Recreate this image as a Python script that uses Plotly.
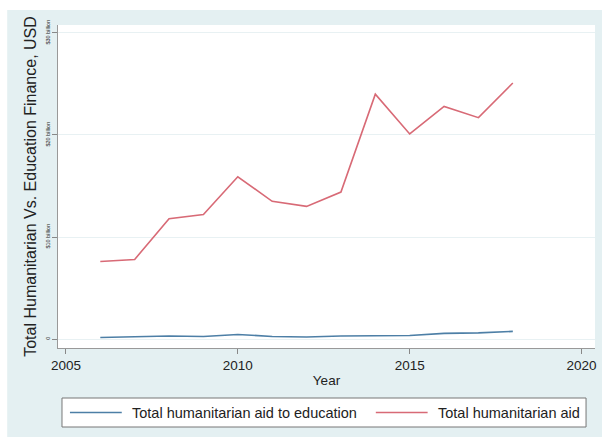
import plotly.graph_objects as go

years = [2006, 2007, 2008, 2009, 2010, 2011, 2012, 2013, 2014, 2015, 2016, 2017, 2018]
aid_education = [0.15, 0.2, 0.3, 0.25, 0.45, 0.25, 0.2, 0.3, 0.35, 0.35, 0.55, 0.6, 0.75]
aid_total = [7.6, 7.8, 11.8, 12.2, 15.9, 13.5, 13.0, 14.4, 24.0, 20.1, 22.8, 21.7, 25.1]

series_names = ["Total humanitarian aid to education", "Total humanitarian aid"]
series_colors = ["#4d7fa6", "#d86a76"]

y_tickvals = [0, 10, 20, 30]
y_ticktext = ["0", "$10 billion", "$20 billion", "$30 billion"]
x_tickvals = [2005, 2010, 2015, 2020]

bg = "#e4f0f2"

fig = go.Figure()
for yv, nm, col in zip([aid_education, aid_total], series_names, series_colors):
    fig.add_trace(go.Scatter(x=years, y=yv, mode="lines", name=nm,
                             line=dict(color=col, width=1.6)))

# legend box drawn in paper coordinates (plot area: 539 x 323 px)
W, H = 539.0, 323.0
leg_y0, leg_y1 = -79 / H, -50 / H
leg_mid = (leg_y0 + leg_y1) / 2
line_x = [(12 / W, 64 / W), (319 / W, 371 / W)]
text_x = [72 / W, 379 / W]

shapes = [
    dict(type="rect", xref="paper", yref="paper", x0=-0.2, x1=1.1,
         y0=1.0 + 15 / H, y1=1.2, fillcolor="white", line_width=0, layer="below"),
    dict(type="rect", xref="paper", yref="paper", x0=-0.2, x1=-51 / W,
         y0=-0.4, y1=1.2, fillcolor="white", line_width=0, layer="below"),
    dict(type="rect", xref="paper", yref="paper", x0=4 / W, x1=530 / W,
         y0=leg_y0, y1=leg_y1, fillcolor="white", line=dict(color="#777", width=1)),
]
annotations = []
for (lx0, lx1), tx, nm, col in zip(line_x, text_x, series_names, series_colors):
    shapes.append(dict(type="line", xref="paper", yref="paper", x0=lx0, x1=lx1,
                       y0=leg_mid, y1=leg_mid, line=dict(color=col, width=1.6)))
    annotations.append(dict(xref="paper", yref="paper", x=tx, y=leg_mid, text=nm,
                            showarrow=False, xanchor="left", yanchor="middle",
                            font=dict(size=14.5, color="#222")))

fig.update_layout(
    width=602, height=437,
    margin=dict(l=58, r=5, t=25, b=89),
    paper_bgcolor=bg, plot_bgcolor="white",
    font=dict(family="Liberation Sans, Arial, sans-serif", color="#222"),
    showlegend=False,
    xaxis=dict(range=[2004.77, 2020.39], tickvals=x_tickvals, ticks="outside",
               ticklen=5, tickcolor="#888", showgrid=False, zeroline=False,
               showline=True, linecolor="#999", linewidth=1,
               tickfont=dict(size=13.5),
               title=dict(text="Year", font=dict(size=13.5), standoff=3)),
    yaxis=dict(range=[-0.88, 30.78], tickvals=y_tickvals, ticktext=y_ticktext,
               tickangle=-90, ticks="outside", ticklen=5, tickcolor="#888",
               showgrid=True, gridcolor="#e8f1f3", gridwidth=1, zeroline=False,
               showline=True, linecolor="#999", linewidth=1,
               tickfont=dict(size=5.5),
               title=dict(text="Total Humanitarian Vs. Education Finance, USD",
                          font=dict(size=16), standoff=4)),
    shapes=shapes,
    annotations=annotations,
)

fig.write_html("out.html")
